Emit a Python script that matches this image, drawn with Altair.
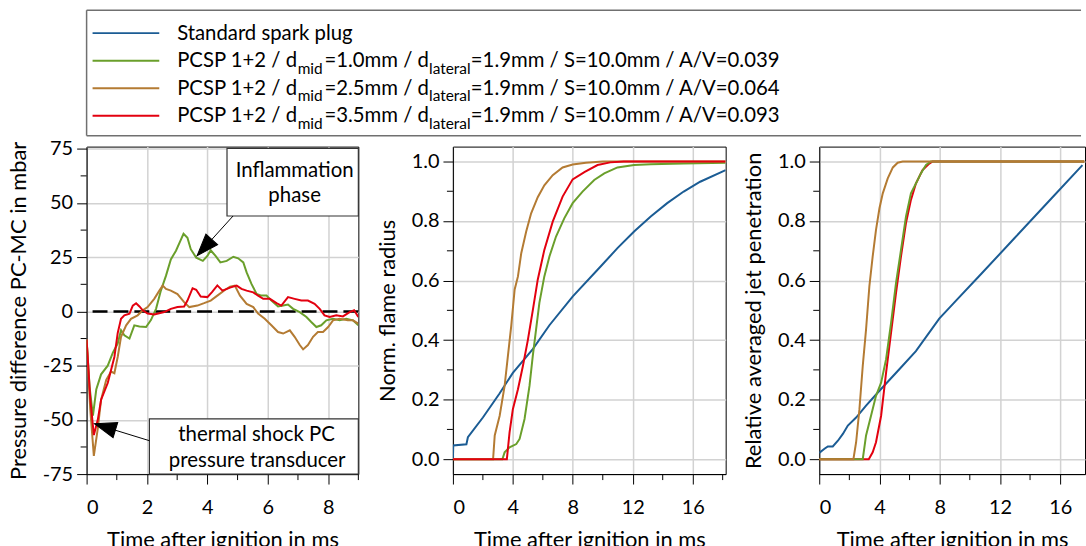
import altair as alt
import pandas as pd

FONT = "Lato"
KEYS = ["std", "d10", "d25", "d35"]
COLORS = ["#1b5c94", "#6a9f2b", "#b47b33", "#e3000f"]
CMAP = dict(zip(KEYS, COLORS))

# legend text pieces
LEG_FIRST = "Standard spark plug"
D_MID = ["1.0", "2.5", "3.5"]
D_LAT = "1.9"
S_VAL = "10.0"
AV = ["0.039", "0.064", "0.093"]

# ---------- Panel 1: pressure difference PC-MC (mbar) ----------
p1_green_t = [0, 0.1, 0.21, 0.32, 0.48, 0.7, 0.87, 1.03, 1.14, 1.25, 1.42, 1.58, 1.75, 1.97, 2.13, 2.3, 2.46, 2.63, 2.79, 2.96, 3.12, 3.21, 3.34, 3.45, 3.63, 3.85, 4.0, 4.11, 4.27, 4.43, 4.64, 4.86, 5.02, 5.19, 5.3, 5.46, 5.63, 5.79, 5.96, 6.12, 6.34, 6.51, 6.67, 6.84, 7.06, 7.28, 7.44, 7.61, 7.77, 7.94, 8.16, 8.38, 8.6, 8.82, 9.0]
p1_green_v = [-13, -35, -48, -36, -29, -25, -19, -14.8, -8.7, -11, -12.5, -6.4, -6.9, -7.2, -4, 1.2, 9.6, 16.5, 24, 28, 33, 35.8, 34, 28.7, 24.8, 23.3, 25.6, 28.2, 25.6, 22.6, 23.3, 25.2, 24.5, 22.6, 18, 12.7, 8.1, 7.3, 7.3, 5, 2.3, 2.7, 3.2, 1.2, -0.3, -2.6, -4.9, -7.2, -6.4, -4.1, -3.4, -4.1, -3.4, -4.1, -6.4]
p1_brown_t = [0, 0.12, 0.24, 0.37, 0.48, 0.65, 0.81, 0.92, 1.03, 1.14, 1.31, 1.47, 1.69, 1.86, 2.02, 2.24, 2.41, 2.52, 2.63, 2.79, 3.01, 3.23, 3.4, 3.67, 3.89, 4.11, 4.33, 4.58, 4.75, 4.91, 5.08, 5.3, 5.52, 5.68, 5.9, 6.12, 6.34, 6.51, 6.73, 6.89, 7.06, 7.17, 7.33, 7.5, 7.66, 7.83, 8.0, 8.16, 8.38, 8.65, 8.82, 9.0]
p1_brown_v = [-13, -45, -66.6, -54, -40.7, -31.6, -27.7, -28.5, -21, -11.7, -6.4, -3.4, -1.8, 0.5, 2, 5.8, 9.6, 11.9, 10.4, 9.6, 8, 4.3, 2, 2.7, 3.8, 5, 7.3, 9.9, 11.4, 11.9, 7.3, 3.5, 2, -1, -3.4, -6.4, -9.5, -10.2, -8.7, -11.7, -15.5, -17.5, -15.5, -11.7, -9.5, -9.5, -7.2, -4.1, -3.4, -4.1, -4.1, -5.6]
p1_red_t = [0, 0.12, 0.24, 0.37, 0.48, 0.7, 0.92, 1.03, 1.14, 1.25, 1.42, 1.53, 1.64, 1.75, 1.86, 2.02, 2.24, 2.57, 2.79, 3.01, 3.23, 3.34, 3.51, 3.63, 3.78, 4.0, 4.16, 4.33, 4.5, 4.75, 4.97, 5.13, 5.3, 5.52, 5.68, 5.85, 6.07, 6.29, 6.45, 6.67, 6.89, 7.11, 7.33, 7.55, 7.72, 7.88, 8.05, 8.27, 8.49, 8.71, 8.86, 9.0]
p1_red_v = [-13, -40, -57, -50, -40.7, -33, -21, -10, -3.4, -1.8, -1, 2.7, 3.8, 2.3, 0.5, -1, -1.4, -0.3, 1.2, 2, 2.3, 5, 10.7, 10, 6.9, 6.6, 9, 12, 9.6, 11, 11.9, 10.4, 9.6, 8.8, 7.3, 5.8, 5.8, 3.8, 2.7, 6.6, 5.8, 5, 5, 3.5, 1.2, -1.8, -2.6, -1.8, -2.3, -0.3, 0.5, -2.6]

# ---------- Panel 2: normalised flame radius ----------
p2_blue_t = [0, 0.02, 0.9, 1.0, 2.0, 3.1, 4.0, 5.33, 6.44, 8.0, 9.87, 10.98, 12.09, 13.2, 14.3, 15.4, 16.5, 18.2]
p2_blue_v = [0.0, 0.046, 0.05, 0.074, 0.14, 0.22, 0.29, 0.37, 0.45, 0.547, 0.648, 0.709, 0.765, 0.815, 0.86, 0.899, 0.932, 0.971]
p2_green_t = [0, 3.3, 3.45, 3.78, 4.23, 4.45, 4.78, 5.11, 5.33, 5.55, 5.77, 6.1, 6.44, 6.88, 7.43, 7.99, 8.65, 9.43, 10.1, 10.98, 12.09, 13.2, 15.4, 18.2]
p2_green_v = [0, 0, 0.023, 0.04, 0.051, 0.068, 0.135, 0.246, 0.347, 0.436, 0.525, 0.614, 0.681, 0.748, 0.809, 0.86, 0.899, 0.938, 0.96, 0.98, 0.988, 0.991, 0.993, 0.996]
p2_brown_t = [0, 2.68, 2.79, 3.12, 3.45, 3.67, 3.89, 4.12, 4.34, 4.56, 4.89, 5.22, 5.66, 6.1, 6.66, 7.32, 7.99, 8.87, 10.0, 18.2]
p2_brown_v = [0, 0, 0.08, 0.146, 0.246, 0.347, 0.447, 0.57, 0.614, 0.692, 0.765, 0.826, 0.88, 0.92, 0.954, 0.98, 0.99, 0.996, 1.0, 1.0]
p2_red_t = [0, 3.6, 3.78, 4.0, 4.34, 4.67, 5.0, 5.33, 5.66, 6.1, 6.66, 7.32, 7.99, 8.8, 9.65, 10.5, 11.4, 18.2]
p2_red_v = [0, 0, 0.09, 0.168, 0.235, 0.313, 0.40, 0.50, 0.603, 0.703, 0.798, 0.882, 0.94, 0.965, 0.988, 0.997, 1.0, 1.0]

# ---------- Panel 3: relative averaged jet penetration ----------
p3_blue_t = [0, 0.35, 0.57, 0.9, 1.24, 1.57, 1.9, 2.45, 3.11, 4.0, 5.32, 6.42, 7.97, 9.07, 10.75, 12.96, 15.2, 17.48]
p3_blue_v = [0.021, 0.035, 0.043, 0.043, 0.062, 0.085, 0.113, 0.14, 0.18, 0.23, 0.302, 0.363, 0.472, 0.532, 0.622, 0.742, 0.864, 0.988]
p3_green_t = [0, 2.89, 3.11, 3.44, 3.77, 4.11, 4.44, 4.77, 5.1, 5.43, 5.76, 6.09, 6.42, 6.75, 7.09, 7.42, 17.6]
p3_green_v = [0, 0, 0.08, 0.146, 0.213, 0.257, 0.336, 0.458, 0.592, 0.703, 0.815, 0.893, 0.926, 0.96, 0.988, 1.0, 1.0]
p3_brown_t = [0, 2.27, 2.45, 2.67, 2.89, 3.11, 3.33, 3.55, 3.77, 4.0, 4.22, 4.55, 4.89, 5.21, 5.54, 17.6]
p3_brown_v = [0, 0, 0.057, 0.168, 0.313, 0.436, 0.581, 0.681, 0.77, 0.843, 0.893, 0.943, 0.98, 0.996, 1.0, 1.0]
p3_red_t = [0, 3.29, 3.55, 3.77, 4.11, 4.44, 4.77, 5.1, 5.43, 5.76, 6.09, 6.42, 6.86, 7.31, 7.53, 17.6]
p3_red_v = [0, 0, 0.023, 0.057, 0.146, 0.291, 0.425, 0.559, 0.681, 0.793, 0.871, 0.926, 0.971, 0.993, 1.0, 1.0]

# ---------- annotations (panel 1, data units) ----------
ann_boxes = pd.DataFrame({"t": [4.65, 2.08], "t2": [9.0, 9.0], "v": [75.2, -49.5], "v2": [44.0, -75.0]})
ann_text = pd.DataFrame({
    "t": [6.89, 6.89, 5.63, 5.65],
    "v": [64.7, 53.2, -56.9, -68.8],
    "label": ["Inflammation", "phase", "thermal shock PC", "pressure transducer"],
})
arrow_lines = pd.DataFrame({"t": [4.85, 2.08], "v": [44.0, -59.6], "t2": [3.66, 0.26], "v2": [25.7, -51.8]})
arrow_heads = pd.DataFrame({"t": [3.66, 0.26], "v": [25.7, -51.8], "ang": [222, 287]})

H = 329
AXIS_COMMON = dict(
    tickSize=10, tickColor="black", tickWidth=1, domainColor="black", domainWidth=1,
    labelFont=FONT, labelFontSize=20, labelColor="black",
    titleFont=FONT, titleFontSize=22, titleColor="black", titleFontWeight="normal",
    grid=True, gridColor="#d2d2d2", gridWidth=1.5,
)


def series_df(t, v):
    return pd.DataFrame({"t": t, "v": v})


def panel(series, width, xdom, xmaj, xmin, ydom, ymaj, ymin, ytitle, ylabel_expr, extra=None, zero_line=False):
    ax_x = alt.Axis(values=xmaj, title="Time after ignition in ms", labelPadding=14, titlePadding=12, **AXIS_COMMON)
    ax_y = alt.Axis(values=ymaj, title=ytitle, labelExpr=ylabel_expr, labelPadding=4, titlePadding=12, **AXIS_COMMON)
    X = alt.X("t:Q", scale=alt.Scale(domain=xdom, nice=False, zero=False), axis=ax_x)
    Y = alt.Y("v:Q", scale=alt.Scale(domain=ydom, nice=False, zero=False), axis=ax_y)
    layers = []
    layers.append(alt.Chart(pd.DataFrame({"t": xmin})).mark_rule(color="black", strokeWidth=1).encode(
        x=X, y=alt.value(H), y2=alt.value(H + 6)))
    layers.append(alt.Chart(pd.DataFrame({"v": ymin})).mark_rule(color="black", strokeWidth=1).encode(
        y=Y, x=alt.value(0), x2=alt.value(-6)))
    if zero_line:
        layers.append(alt.Chart(pd.DataFrame({"v": [0]})).mark_rule(
            color="black", strokeWidth=2.5, strokeDash=[15, 6]).encode(y=Y))
    for key, t, v in series:
        layers.append(alt.Chart(series_df(t, v)).mark_line(
            color=CMAP[key], strokeWidth=2, clip=True).encode(x=X, y=Y))
    if extra:
        layers.extend(extra(X, Y))
    return alt.layer(*layers).properties(width=width, height=H)


def annotations(X, Y):
    out = []
    out.append(alt.Chart(ann_boxes).mark_rect(fill="white", stroke="#333333", strokeWidth=1.2).encode(
        x=X, x2="t2", y=Y, y2="v2"))
    out.append(alt.Chart(ann_text).mark_text(font=FONT, fontSize=20.5, color="black",
                                             align="center", baseline="middle").encode(
        x=X, y=Y, text="label:N"))
    out.append(alt.Chart(arrow_lines).mark_rule(color="black", strokeWidth=1).encode(
        x=X, y=Y, x2="t2", y2="v2"))
    out.append(alt.Chart(arrow_heads).mark_point(
        shape="M0,0 L0.36,1 L-0.36,1 Z", size=1936, filled=True, fill="black", stroke="black",
        strokeWidth=1, opacity=1).encode(x=X, y=Y, angle=alt.Angle("ang:Q", scale=None)))
    return out


p1 = panel(
    [("d10", p1_green_t, p1_green_v), ("d25", p1_brown_t, p1_brown_v), ("d35", p1_red_t, p1_red_v)],
    273, [0, 9], [0, 2, 4, 6, 8], [1, 3, 5, 7, 9],
    [-75, 76], [-75, -50, -25, 0, 25, 50, 75], [-62.5, -37.5, -12.5, 12.5, 37.5, 62.5],
    "Pressure difference PC-MC in mbar", "datum.value + ''",
    extra=annotations, zero_line=True,
)
p2 = panel(
    [("std", p2_blue_t, p2_blue_v), ("d10", p2_green_t, p2_green_v),
     ("d25", p2_brown_t, p2_brown_v), ("d35", p2_red_t, p2_red_v)],
    274, [0, 18.2], [0, 4, 8, 12, 16], [2, 6, 10, 14, 18],
    [-0.05, 1.05], [0, 0.2, 0.4, 0.6, 0.8, 1.0], [0.1, 0.3, 0.5, 0.7, 0.9],
    "Norm. flame radius", "format(datum.value, '.1f')",
)
p3 = panel(
    [("std", p3_blue_t, p3_blue_v), ("d35", p3_red_t, p3_red_v),
     ("d10", p3_green_t, p3_green_v), ("d25", p3_brown_t, p3_brown_v)],
    267, [0, 17.65], [0, 4, 8, 12, 16], [2, 6, 10, 14],
    [-0.05, 1.05], [0, 0.2, 0.4, 0.6, 0.8, 1.0], [0.1, 0.3, 0.5, 0.7, 0.9],
    "Relative averaged jet penetration", "format(datum.value, '.1f')",
)

# ---------- legend ----------
leg = pd.DataFrame({
    "key": KEYS,
    "s1": [LEG_FIRST] + ["PCSP 1+2 / d"] * 3,
    "s2": [""] + ["mid"] * 3,
    "s3": [""] + [f"={d}mm / d" for d in D_MID],
    "s4": [""] + ["lateral"] * 3,
    "s5": [""] + [f"={D_LAT}mm / S={S_VAL}mm / A/V={a}" for a in AV],
})
WL = 999
HL = 126
LY = alt.Y("key:N", scale=alt.Scale(type="point", domain=KEYS, range=[23, 106], padding=0), axis=None)
leg_layers = [
    alt.Chart(leg).mark_rule(strokeWidth=2).encode(
        x=alt.value(6), x2=alt.value(73), y=LY,
        color=alt.Color("key:N", scale=alt.Scale(domain=KEYS, range=COLORS), legend=None)),
]
for col, xpos, fs, dy in [("s1", 91, 20.4, 6.5), ("s2", 212, 15.5, 13), ("s3", 239, 20.4, 6.5),
                          ("s4", 344, 15.5, 13), ("s5", 386, 20.4, 6.5)]:
    leg_layers.append(alt.Chart(leg).mark_text(
        font=FONT, fontSize=fs, color="black", align="left", baseline="alphabetic", dy=dy).encode(
        x=alt.value(xpos), y=LY, text=f"{col}:N"))
box = pd.DataFrame({"k": [0]})
leg_layers += [
    alt.Chart(box).mark_rule(color="#707070", strokeWidth=1.5).encode(x=alt.value(0), x2=alt.value(WL), y=alt.value(0)),
    alt.Chart(box).mark_rule(color="#707070", strokeWidth=1.5).encode(x=alt.value(0), x2=alt.value(WL), y=alt.value(HL)),
    alt.Chart(box).mark_rule(color="#707070", strokeWidth=1.5).encode(x=alt.value(0), y=alt.value(0), y2=alt.value(HL)),
]
legend = alt.layer(*leg_layers).properties(width=WL, height=HL, view=alt.ViewBackground(strokeWidth=0))

chart = alt.vconcat(
    legend,
    alt.hconcat(p1, p2, p3, spacing=15),
    spacing=1,
).properties(
    padding={"left": 6, "top": 8, "right": 0, "bottom": 0},
).configure(font=FONT).configure_view(stroke="black", strokeWidth=1)

chart.save("out.html", embed_options={"renderer": "svg", "actions": False})
